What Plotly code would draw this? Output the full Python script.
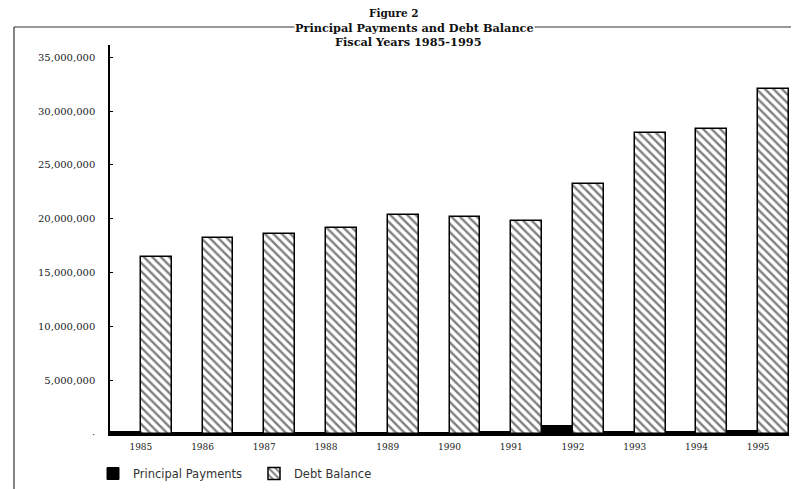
import plotly.graph_objects as go

years = ["1985", "1986", "1987", "1988", "1989", "1990", "1991", "1992", "1993", "1994", "1995"]
principal_payments = [150000, 90000, 90000, 90000, 90000, 90000, 180000, 750000, 200000, 200000, 250000]
debt_balance = [16450000, 18200000, 18600000, 19150000, 20350000, 20200000, 19800000, 23200000, 27950000, 28350000, 32100000]
y_tick_vals = [0, 5000000, 10000000, 15000000, 20000000, 25000000, 30000000, 35000000]
y_tick_text = ["·", "5,000,000", "10,000,000", "15,000,000", "20,000,000", "25,000,000", "30,000,000", "35,000,000"]

# page body has an 8px margin, so the figure is drawn 8px smaller and all
# window positions below are shifted by 8px
OFF = 8
W, H = 799 - OFF, 489 - OFF
L, R, T, B = 110 - OFF, 10, 45 - OFF, 55
pw, ph = W - L - R, H - T - B

def px_x(x):
    return (x - OFF - L) / pw

def px_y(y):
    return (H - B - (y - OFF)) / ph

fig = go.Figure()
fig.add_trace(go.Bar(
    x=years, y=principal_payments, name="Principal Payments",
    marker=dict(color="black", line=dict(color="black", width=1)),
))
fig.add_trace(go.Bar(
    x=years, y=debt_balance, name="Debt Balance",
    marker=dict(color="white", line=dict(color="black", width=1.5),
                pattern=dict(shape="\\", fgcolor="black", bgcolor="white", size=6, solidity=0.4)),
))

fig.update_layout(
    width=W, height=H,
    margin=dict(l=L, r=R, t=T, b=B, autoexpand=False),
    paper_bgcolor="white", plot_bgcolor="white",
    barmode="group", bargap=0, bargroupgap=0,
    font=dict(family="DejaVu Serif", size=10, color="#222"),
    showlegend=True,
    legend=dict(orientation="h", xref="container", yref="container",
                x=(93 - OFF) / W, y=1 - (459 - OFF) / H, xanchor="left", yanchor="top",
                font=dict(family="DejaVu Sans", size=11.5, color="#333"),
                itemwidth=30, traceorder="normal", entrywidth=116, entrywidthmode="pixels"),
    xaxis=dict(type="category", range=[-0.5, 10.5], showline=True, linecolor="black", linewidth=1.5,
               ticks="", tickfont=dict(family="DejaVu Serif", size=9, color="#222"), showgrid=False,
               ticklabelstandoff=3),
    yaxis=dict(range=[0, 36150000], showline=True, linecolor="black", linewidth=1.5,
               tickvals=y_tick_vals, ticktext=y_tick_text, ticks="inside", ticklen=3, tickcolor="black",
               showgrid=False, zeroline=False, ticklabelstandoff=11,
               tickfont=dict(family="DejaVu Serif", size=10, color="#222")),
    shapes=[
        dict(type="line", xref="paper", yref="paper", x0=px_x(14), x1=px_x(799), y0=px_y(27), y1=px_y(27),
             line=dict(color="#333", width=1.2)),
        dict(type="line", xref="paper", yref="paper", x0=px_x(14), x1=px_x(14), y0=px_y(27), y1=px_y(489),
             line=dict(color="#333", width=1.2)),
    ],
    annotations=[
        dict(xref="paper", yref="paper", x=px_x(394), y=px_y(13), text="<b>Figure 2</b>", showarrow=False,
             font=dict(family="DejaVu Serif", size=10.5, color="#111"), xanchor="center", yanchor="middle"),
        dict(xref="paper", yref="paper", x=px_x(414), y=px_y(28), text="<b>Principal Payments and Debt Balance</b>",
             showarrow=False, bgcolor="white", borderpad=0,
             font=dict(family="DejaVu Serif", size=11.3, color="#111"), xanchor="center", yanchor="middle"),
        dict(xref="paper", yref="paper", x=px_x(408), y=px_y(42), text="<b>Fiscal Years 1985-1995</b>", showarrow=False,
             font=dict(family="DejaVu Serif", size=11.3, color="#111"), xanchor="center", yanchor="middle"),
    ],
)

fig.write_html("out.html")
